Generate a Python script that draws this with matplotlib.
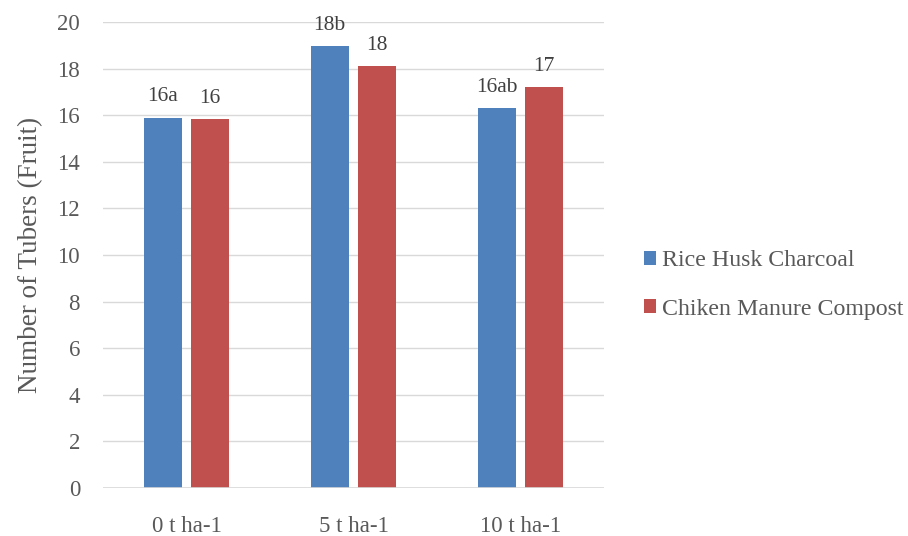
import matplotlib as mpl
mpl.use('Agg')
import matplotlib.pyplot as plt
import numpy as np

categories = ['0 t ha-1', '5 t ha-1', '10 t ha-1']
rice_husk = [15.9, 18.95, 16.3]
chicken = [15.85, 18.1, 17.2]
rice_labels = ['16a', '18b', '16ab']
chicken_labels = ['16', '18', '17']
series_names = ['Rice Husk Charcoal', 'Chiken Manure Compost']

plt.rcParams['font.family'] = ['Liberation Serif', 'DejaVu Serif']
text_col = '#595959'

fig = plt.figure(figsize=(9.08, 5.36), dpi=100)
ax = fig.add_axes([103/908, 48/536, 501/908, 466/536])

x = np.arange(len(categories))
w = 0.227
off = 0.142
b1 = ax.bar(x - off, rice_husk, w, color='#4F81BD', label=series_names[0])
b2 = ax.bar(x + off, chicken, w, color='#C0504D', label=series_names[1])

# data labels above each bar
for bars, labels in [(b1, rice_labels), (b2, chicken_labels)]:
    for bar, lab in zip(bars, labels):
        ax.annotate(lab, (bar.get_x() + bar.get_width() / 2, bar.get_height()),
                    xytext=(0, 8), textcoords='offset points', ha='center', va='bottom',
                    fontsize=15.5, color='#404040')

ax.set_xlim(-0.5, 2.5)
ax.set_ylim(0, 20)
ax.set_yticks(range(0, 21, 2))
ax.set_xticks(x)
ax.set_xticklabels(categories)
ax.yaxis.grid(True, color='#D9D9D9', linewidth=1)
ax.axhline(0, color='#D9D9D9', linewidth=1.2, zorder=3)
ax.set_axisbelow(True)
for s in ['top', 'right', 'left', 'bottom']:
    ax.spines[s].set_visible(False)
ax.tick_params(axis='both', length=0, labelsize=16.5, colors=text_col)
ax.tick_params(axis='x', pad=20)
ax.tick_params(axis='y', pad=16.5)
ax.set_ylabel('Number of Tubers (Fruit)', fontsize=19.5, color=text_col, labelpad=10)

leg = fig.legend(loc='center left', bbox_to_anchor=(625/908, 1 - 285/536), frameon=False,
                 fontsize=17.2, handlelength=0.5, handleheight=0.5, labelspacing=1.15,
                 handletextpad=0.25, borderpad=0.3)
for t in leg.get_texts():
    t.set_color(text_col)

fig.savefig('out.png', dpi=100)
